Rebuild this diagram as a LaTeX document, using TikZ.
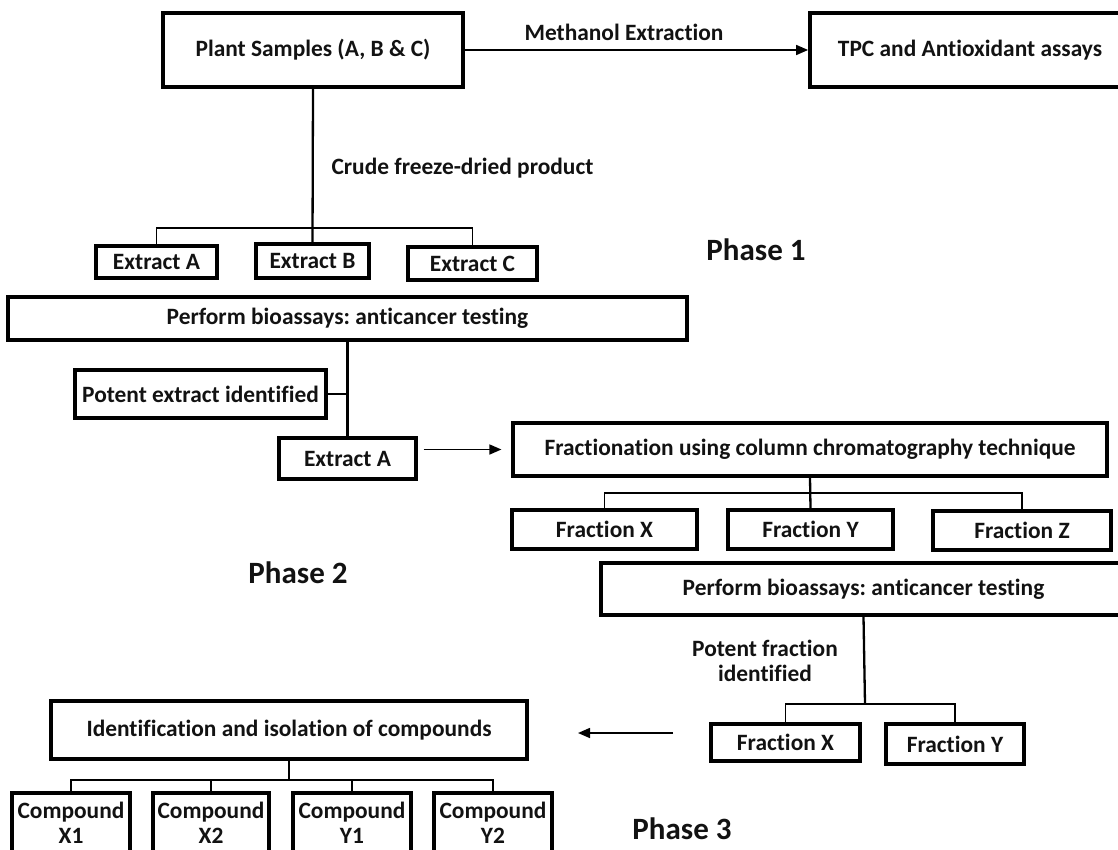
\documentclass[tikz,border=0pt]{standalone}
\usepackage{fontspec}
\setmainfont{Carlito}[Ligatures={NoCommon}]
\usetikzlibrary{arrows.meta}
\frenchspacing
\begin{document}
\begin{tikzpicture}[x=1pt,y=-1pt,
  every node/.style={font=\fontsize{23.4}{25}\selectfont\bfseries\frenchspacing, text=black!93, align=center},
  box/.style={draw=black, line width=3.2pt, inner sep=0pt},
  bigbox/.style={box, line width=3.8pt},
  conn/.style={line width=2.3pt},
  bus/.style={line width=1.6pt},
  arr/.style={line width=1.6pt, -{Triangle[length=12pt,width=10pt]}},
  phase/.style={font=\fontsize{31}{34}\selectfont\bfseries}
]
\useasboundingbox (0,0) rectangle (1118,850);

% Phase 1
\node[bigbox, minimum width=300pt, minimum height=74pt] (plant) at (313,50) {Plant Samples (A, B \& C)};
\node[bigbox, minimum width=320pt, minimum height=74pt] (tpc) at (970,50) {TPC and Antioxidant assays};
\draw[arr] (plant.east) -- (tpc.west);
\node (meth) at (624,32) {Methanol Extraction};

\node[box, minimum width=121pt, minimum height=32pt] (exa) at (156.5,262) {Extract A};
\node[box, minimum width=113pt, minimum height=34pt] (exb) at (312.5,261) {Extract B};
\node[box, minimum width=129pt, minimum height=33pt] (exc) at (472.5,263.5) {Extract C};
\coordinate (b1) at (313,228);
\draw[conn] (plant.south) -- (exb.north);
\draw[bus] (exa.north) -- (exa.north |- b1) -- (exc.north |- b1) -- (exc.north);
\node[anchor=west] (crude) at (328,168) {Crude freeze-dried product};
\node[phase] (ph1) at (756,250) {Phase 1};

% Phase 2
\node[box, minimum width=679pt, minimum height=43pt] (perf1) at (347.5,318.5) {Perform bioassays: anticancer testing};
\node[box, minimum width=251pt, minimum height=48pt] (pot) at (200.5,394) {Potent extract identified};
\node[box, minimum width=137pt, minimum height=41pt] (exa2) at (347.5,458.5) {Extract A};
\draw[conn] (perf1.south) -- (exa2.north);
\draw[conn] (pot.east) -- (pot.east -| exa2.north);
\node[box, minimum width=594pt, minimum height=53pt] (frac) at (810,449.5) {Fractionation using column chromatography technique};
\draw[arr, shorten <=6pt, shorten >=10pt] (exa2.east |- frac.west) -- (frac.west);

\node[box, minimum width=185pt, minimum height=39pt] (fx) at (604.5,529.5) {Fraction X};
\node[box, minimum width=165pt, minimum height=39pt] (fy) at (810.5,529.5) {Fraction Y};
\node[box, minimum width=178pt, minimum height=39pt] (fz) at (1022,530.5) {Fraction Z};
\coordinate (b2) at (811,493);
\draw[conn] (frac.south) -- (fy.north);
\draw[bus] (fx.north) -- (fx.north |- b2) -- (fz.north |- b2) -- (fz.north);
\node[phase] (ph2) at (298,573) {Phase 2};

% Phase 3
\node[box, minimum width=525pt, minimum height=52pt] (perf2) at (863.5,589) {Perform bioassays: anticancer testing};
\node (potf) at (765,661) {Potent fraction\\identified};
\node[box, minimum width=149pt, minimum height=37pt] (fx2) at (785.5,742.5) {Fraction X};
\node[box, minimum width=138pt, minimum height=40pt] (fy2) at (955,744) {Fraction Y};
\coordinate (b3) at (865,704);
\draw[conn] (perf2.south) -- (b3);
\draw[bus] (fx2.north) -- (fx2.north |- b3) -- (fy2.north |- b3) -- (fy2.north);
\coordinate (a3s) at (673,733);
\coordinate (a3e) at (578,733);
\draw[arr] (a3s) -- (a3e);

\node[box, minimum width=476pt, minimum height=58pt] (ident) at (289,730) {Identification and isolation of compounds};
\node[box, minimum width=118pt, minimum height=60pt] (cx1) at (71,823) {Compound\\X1};
\node[box, minimum width=116pt, minimum height=60pt] (cx2) at (211,823) {Compound\\X2};
\node[box, minimum width=118pt, minimum height=60pt] (cy1) at (352,823) {Compound\\Y1};
\node[box, minimum width=118pt, minimum height=60pt] (cy2) at (493,823) {Compound\\Y2};
\coordinate (b4) at (289,780);
\draw[conn] (ident.south) -- (b4);
\draw[bus] (cx1.north) -- (cx1.north |- b4) -- (cy2.north |- b4) -- (cy2.north);
\draw[bus] (cx2.north) -- (cx2.north |- b4);
\draw[bus] (cy1.north) -- (cy1.north |- b4);
\node[phase] (ph3) at (682,829) {Phase 3};
\end{tikzpicture}
\end{document}
